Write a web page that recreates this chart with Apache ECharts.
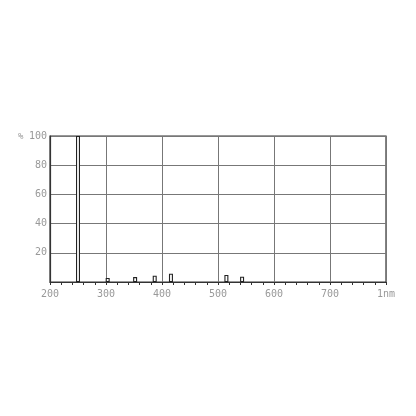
<!DOCTYPE html>
<html>
<head>
<meta charset="utf-8">
<script src="https://cdn.jsdelivr.net/npm/echarts@6/dist/echarts.min.js"></script>
<style>html,body{margin:0;padding:0;background:#fff;}#c{width:416px;height:416px;}</style>
</head>
<body>
<div id="c"></div>
<script>
const wavelengths = [250, 303, 352, 387, 416, 515, 543];
const intensities = [100, 2.8, 3.4, 4.3, 5.7, 4.8, 3.6];
const xTicks = {200:'200',300:'300',400:'400',500:'500',600:'600',700:'700',800:'1nm'};
const yTicks = {20:'20',40:'40',60:'60',80:'80',100:'100'};

const chart = echarts.init(document.getElementById('c'), null, {renderer:'canvas'});
const labelStyle = {color:'#999', fontFamily:'DejaVu Sans Mono', fontSize:10};
chart.setOption({
  animation:false,
  backgroundColor:'#fff',
  grid:{left:50, right:30, top:136, bottom:134, show:true, borderColor:'#333', borderWidth:1.2},
  xAxis:{
    type:'value', min:200, max:800, interval:100,
    axisLine:{show:true, lineStyle:{color:'#333', width:1.2}},
    axisTick:{show:true, inside:false, length:3, lineStyle:{color:'#333'}},
    minorTick:{show:true, splitNumber:5, length:3, lineStyle:{color:'#333'}},
    splitLine:{show:true, lineStyle:{color:'#777', width:1}},
    axisLabel:Object.assign({margin:7, formatter:v=>xTicks[v]||''}, labelStyle)
  },
  yAxis:{
    type:'value', min:0, max:100, interval:20,
    axisLine:{show:true, lineStyle:{color:'#333', width:1.2}},
    axisTick:{show:false},
    splitLine:{show:true, lineStyle:{color:'#777', width:1}},
    axisLabel:Object.assign({margin:3, formatter:v=>yTicks[v]||''}, labelStyle)
  },
  graphic:[{type:'text', left:18, top:132, style:{text:'%', fill:'#999', font:'9px DejaVu Sans Mono'}}],
  series:[{
    type:'bar',
    barWidth:4,
    data:wavelengths.map((w,i)=>[w,intensities[i]]),
    itemStyle:{color:'#fff', borderColor:'#222', borderWidth:1.1}
  }]
});
</script>
</body>
</html>
